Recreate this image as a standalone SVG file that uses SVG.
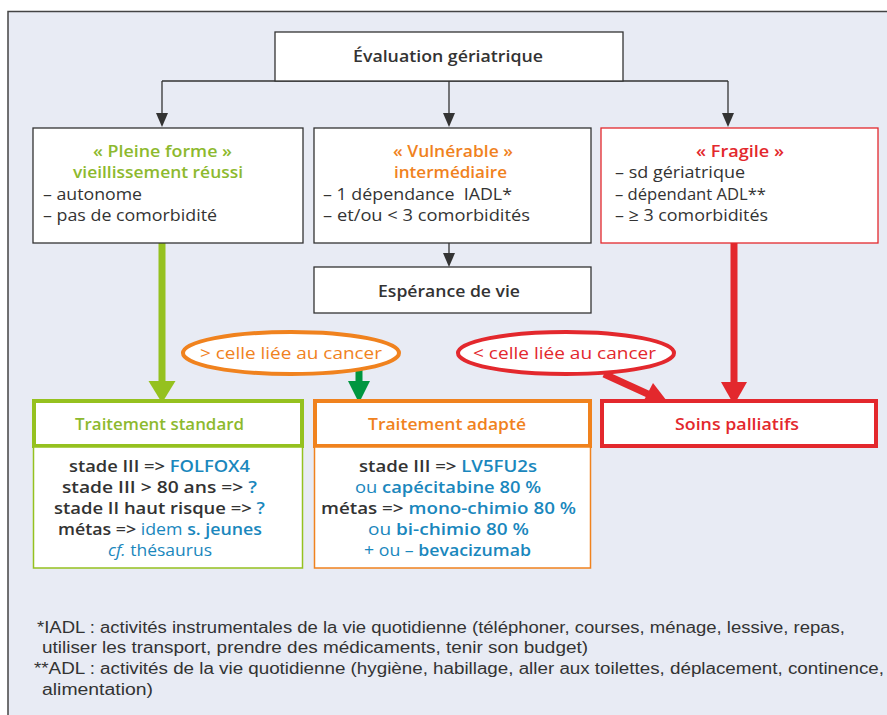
<svg xmlns="http://www.w3.org/2000/svg" width="887" height="715" viewBox="0 0 887 715">
<defs>
<style>
.t{font-family:"Open Sans","Liberation Sans",sans-serif;font-size:17px;fill:#333}
.b{font-weight:600}
.c{text-anchor:middle}
.box{fill:#fff;stroke:#333;stroke-width:1.3}
.grn{fill:#8DB92E}.org{fill:#F0821E}.red{fill:#E3282D}.blu{fill:#1A87BD}
.fn{font-family:"Liberation Sans",sans-serif;font-size:16px;fill:#333}
</style>
</defs>
<rect x="8" y="11.5" width="900" height="720" fill="#E8EBF4" stroke="#444" stroke-width="1.5"/>

<g id="connectors">
<path d="M162,81 L728,81" fill="none" stroke="#333" stroke-width="1.3"/>
<path d="M162,81 L162,113" stroke="#333" stroke-width="1.3"/>
<path d="M162,113 L156,113 L162,127 L168,113 Z" fill="#333"/>
<path d="M449,81 L449,113" stroke="#333" stroke-width="1.3"/>
<path d="M449,113 L443,113 L449,127 L455,113 Z" fill="#333"/>
<path d="M728,81 L728,113" stroke="#333" stroke-width="1.3"/>
<path d="M728,113 L722,113 L728,127 L734,113 Z" fill="#333"/>
<path d="M449,243 L449,254" stroke="#333" stroke-width="1.3"/>
<path d="M449,253 L443,253 L449,267 L455,253 Z" fill="#333"/>
<path d="M162,243 L162,383" stroke="#95C11F" stroke-width="7"/>
<path d="M148.5,381 L175.5,381 L162,403 Z" fill="#95C11F"/>
<path d="M359,370 L359,383" stroke="#009640" stroke-width="7"/>
<path d="M348,381 L370,381 L359,403 Z" fill="#009640"/>
<path d="M734,243 L734,384" stroke="#E3282D" stroke-width="7"/>
<path d="M721,382 L747,382 L734,405 Z" fill="#E3282D"/>
<path d="M604,374 L650,395" stroke="#E3282D" stroke-width="7"/>
<path d="M670,405 L641,406 L653,383 Z" fill="#E3282D"/>
</g>

<g id="n-eval">
<rect class="box" x="275" y="32" width="348" height="49"/>
<text class="t b c" x="448" y="62" textLength="190" lengthAdjust="spacingAndGlyphs">Évaluation gériatrique</text>
</g>

<g id="n-pleine">
<rect class="box" x="33" y="128" width="270" height="115"/>
<text class="t b c grn" x="162.5" y="157" textLength="139" lengthAdjust="spacingAndGlyphs">« Pleine forme »</text>
<text class="t b c grn" x="158" y="178" textLength="170" lengthAdjust="spacingAndGlyphs">vieillissement réussi</text>
<text class="t" x="43" y="200" textLength="99" lengthAdjust="spacingAndGlyphs">– autonome</text>
<text class="t" x="43" y="221" textLength="174" lengthAdjust="spacingAndGlyphs">– pas de comorbidité</text>
</g>

<g id="n-vuln">
<rect class="box" x="314" y="128" width="277" height="115"/>
<text class="t b c org" x="453" y="157" textLength="120" lengthAdjust="spacingAndGlyphs">« Vulnérable »</text>
<text class="t b c org" x="450.5" y="178" textLength="113" lengthAdjust="spacingAndGlyphs">intermédiaire</text>
<text class="t" x="323" y="200" xml:space="preserve" textLength="189" lengthAdjust="spacingAndGlyphs">– 1 dépendance  IADL*</text>
<text class="t" x="323" y="221" textLength="207" lengthAdjust="spacingAndGlyphs">– et/ou &lt; 3 comorbidités</text>
</g>

<g id="n-fragile">
<rect x="601" y="128" width="277" height="115" fill="#fff" stroke="#E3282D" stroke-width="1.3"/>
<text class="t b c red" x="740" y="157" textLength="88" lengthAdjust="spacingAndGlyphs">« Fragile »</text>
<text class="t" x="615" y="178" textLength="130" lengthAdjust="spacingAndGlyphs">– sd gériatrique</text>
<text class="t" x="615" y="200" textLength="151" lengthAdjust="spacingAndGlyphs">– dépendant ADL**</text>
<text class="t" x="615" y="221" textLength="153" lengthAdjust="spacingAndGlyphs">– ≥ 3 comorbidités</text>
</g>

<g id="n-esperance">
<rect class="box" x="314" y="267" width="277" height="46"/>
<text class="t b c" x="449" y="297" textLength="142" lengthAdjust="spacingAndGlyphs">Espérance de vie</text>
</g>

<g id="n-ell-org">
<ellipse cx="291" cy="353" rx="108" ry="21" fill="#fff" stroke="#F0821E" stroke-width="4"/>
<text class="t c org" x="291" y="359" textLength="182" lengthAdjust="spacingAndGlyphs">&gt; celle liée au cancer</text>
</g>

<g id="n-ell-red">
<ellipse cx="566" cy="353" rx="108" ry="21" fill="#fff" stroke="#E3282D" stroke-width="4"/>
<text class="t c red" x="564.5" y="359" textLength="183" lengthAdjust="spacingAndGlyphs">&lt; celle liée au cancer</text>
</g>

<g id="n-std">
<rect x="34" y="401" width="268" height="45" fill="#fff" stroke="#95C11F" stroke-width="4"/>
<rect x="33.5" y="447" width="269" height="121" fill="#fff" stroke="#95C11F" stroke-width="1.5"/>
<text class="t b c grn" x="159.5" y="430" textLength="169" lengthAdjust="spacingAndGlyphs">Traitement standard</text>
<text class="t c" x="159.5" y="472" textLength="181" lengthAdjust="spacingAndGlyphs"><tspan class="b">stade III =&gt; </tspan><tspan class="b blu">FOLFOX4</tspan></text>
<text class="t c" x="159.5" y="493" textLength="195" lengthAdjust="spacingAndGlyphs"><tspan class="b">stade III &gt; 80 ans =&gt; </tspan><tspan class="b blu">?</tspan></text>
<text class="t c" x="159.5" y="514" textLength="211" lengthAdjust="spacingAndGlyphs"><tspan class="b">stade II haut risque =&gt; </tspan><tspan class="b blu">?</tspan></text>
<text class="t c" x="160" y="535" textLength="204" lengthAdjust="spacingAndGlyphs"><tspan class="b">métas =&gt; </tspan><tspan class="blu">idem </tspan><tspan class="b blu">s. jeunes</tspan></text>
<text class="t c blu" x="160" y="556" textLength="104" lengthAdjust="spacingAndGlyphs"><tspan font-style="italic">cf.</tspan> thésaurus</text>
</g>

<g id="n-adapte">
<rect x="315" y="401" width="275" height="45" fill="#fff" stroke="#F0821E" stroke-width="4"/>
<rect x="314.5" y="447" width="276" height="121" fill="#fff" stroke="#F0821E" stroke-width="1.5"/>
<text class="t b c org" x="447" y="430" textLength="158" lengthAdjust="spacingAndGlyphs">Traitement adapté</text>
<text class="t c" x="448" y="472" textLength="178" lengthAdjust="spacingAndGlyphs"><tspan class="b">stade III =&gt; </tspan><tspan class="b blu">LV5FU2s</tspan></text>
<text class="t c" x="448" y="493" textLength="186" lengthAdjust="spacingAndGlyphs"><tspan class="blu">ou </tspan><tspan class="b blu">capécitabine 80 %</tspan></text>
<text class="t c" x="448.5" y="514" textLength="255" lengthAdjust="spacingAndGlyphs"><tspan class="b">métas =&gt; </tspan><tspan class="b blu">mono-chimio 80 %</tspan></text>
<text class="t c" x="448.5" y="535" textLength="161" lengthAdjust="spacingAndGlyphs"><tspan class="blu">ou </tspan><tspan class="b blu">bi-chimio 80 %</tspan></text>
<text class="t c" x="447.5" y="556" textLength="167" lengthAdjust="spacingAndGlyphs"><tspan class="blu">+ ou – </tspan><tspan class="b blu">bevacizumab</tspan></text>
</g>

<g id="n-soins">
<rect x="602" y="401" width="274" height="45" fill="#fff" stroke="#E3282D" stroke-width="4"/>
<text class="t b c red" x="737" y="430" textLength="124" lengthAdjust="spacingAndGlyphs">Soins palliatifs</text>
</g>

<g id="footnote">
<text class="fn" x="37" y="633" textLength="808" lengthAdjust="spacingAndGlyphs">*IADL : activités instrumentales de la vie quotidienne (téléphoner, courses, ménage, lessive, repas,</text>
<text class="fn" x="42" y="653" textLength="546" lengthAdjust="spacingAndGlyphs">utiliser les transport, prendre des médicaments, tenir son budget)</text>
<text class="fn" x="34" y="674" textLength="850" lengthAdjust="spacingAndGlyphs">**ADL : activités de la vie quotidienne (hygiène, habillage, aller aux toilettes, déplacement, continence,</text>
<text class="fn" x="42" y="695" textLength="111" lengthAdjust="spacingAndGlyphs">alimentation)</text>
</g>
</svg>
